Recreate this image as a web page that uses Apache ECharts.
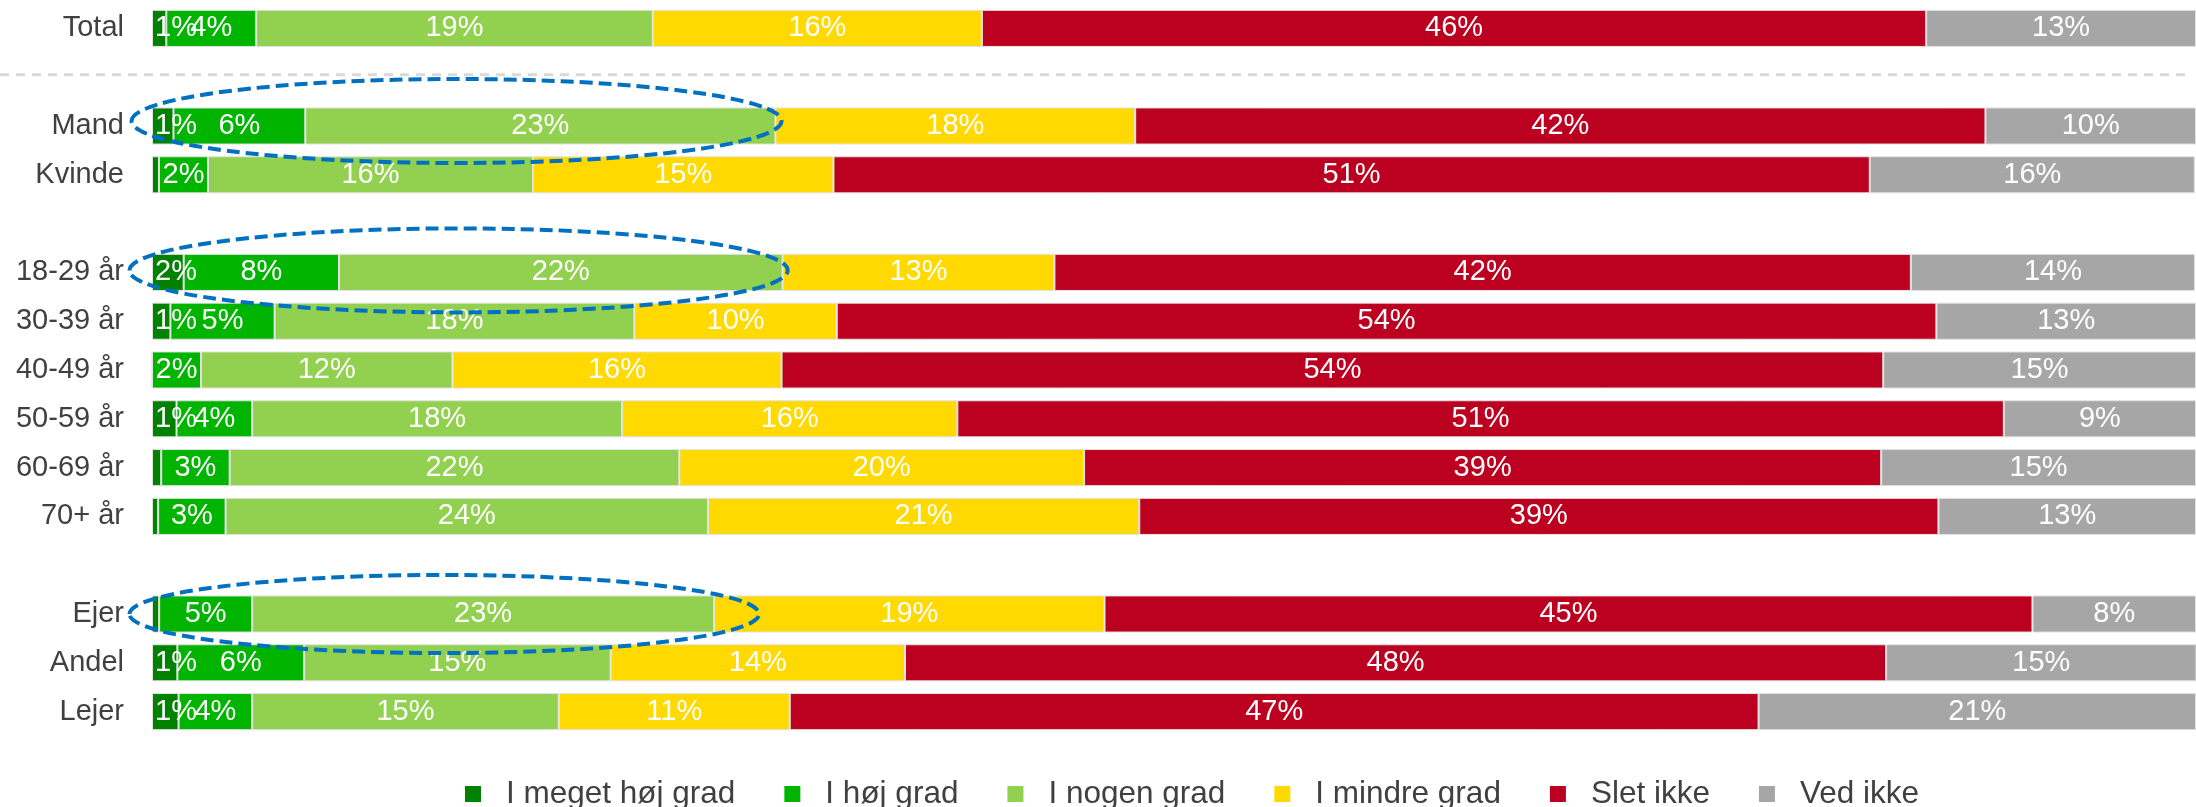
<!DOCTYPE html>
<html>
<head>
<meta charset="utf-8">
<title>Stacked bars</title>
<script src="https://cdn.jsdelivr.net/npm/echarts@6/dist/echarts.min.js"></script>
<style>
  html, body { margin: 0; padding: 0; background: #fff; }
  #chart { width: 2196px; height: 807px; }
</style>
</head>
<body>
<div id="chart"></div>
<script>
/* rows from top to bottom, the blank rows split the groups */
const categories = ['Total', ' ', 'Mand', 'Kvinde', '  ', '18-29 år', '30-39 år', '40-49 år',
  '50-59 år', '60-69 år', '70+ år', '   ', 'Ejer', 'Andel', 'Lejer'];

const levels = ['I meget høj grad', 'I høj grad', 'I nogen grad', 'I mindre grad', 'Slet ikke', 'Ved ikke'];

/* shares in % ('-' = blank row) */
const meget = [0.7, '-', 1.05, 0.34, '-', 1.55, 0.9, 0, 1.2, 0.45, 0.3, '-', 0.35, 1.24, 1.3];
const hoej = [4.4, '-', 6.45, 2.4, '-', 7.6, 5.1, 2.4, 3.7, 3.35, 3.3, '-', 4.55, 6.2, 3.6];
const nogen = [19.4, '-', 23.0, 15.9, '-', 21.7, 17.6, 12.3, 18.1, 22.0, 23.6, '-', 22.6, 15.0, 15.0];
const mindre = [16.1, '-', 17.6, 14.7, '-', 13.3, 9.9, 16.1, 16.4, 19.8, 21.1, '-', 19.1, 14.4, 11.3];
const sletIkke = [46.2, '-', 41.6, 50.7, '-', 41.9, 53.8, 53.9, 51.2, 39.0, 39.1, '-', 45.4, 48.0, 47.4];
const vedIkke = [13.2, '-', 10.3, 15.9, '-', 13.9, 12.7, 15.3, 9.4, 15.4, 12.6, '-', 8.0, 15.2, 21.4];

const colors = ['#008200', '#00B400', '#92D050', '#FFD900', '#BC0020', '#A6A6A6'];
const font = '"Liberation Sans", Arial, sans-serif';

/* dashed ellipses around the first three segments, in axis units */
const highlights = [
  { row: 'Mand', from: -1, to: 30.8, dy: -5, ry: 42 },
  { row: '18-29 år', from: -1.1, to: 31.1, dy: -2, ry: 42 },
  { row: 'Ejer', from: -1.1, to: 29.7, dy: 0, ry: 39 },
];

const seriesData = [meget, hoej, nogen, mindre, sletIkke, vedIkke];

const chart = echarts.init(document.getElementById('chart'));

chart.setOption({
  animation: false,
  color: colors,
  grid: { left: 152, right: -17, top: 4, bottom: 71 },
  xAxis: { type: 'value', min: 0, max: 100, show: false },
  yAxis: {
    type: 'category',
    inverse: true,
    data: categories,
    axisLine: { show: false },
    axisTick: { show: false },
    splitLine: { show: false },
    axisLabel: { fontSize: 29, color: '#404040', margin: 28, fontFamily: font },
  },
  legend: {
    data: levels,
    left: 460,
    top: 773,
    icon: 'rect',
    itemWidth: 16,
    itemHeight: 16,
    itemGap: 49,
    itemStyle: { borderWidth: 0 },
    textStyle: { fontSize: 31.5, lineHeight: 32, color: '#404040', fontFamily: font, padding: [0, 0, 0, 20] },
  },
  series: levels.map((name, i) => ({
    name,
    type: 'bar',
    stack: 'total',
    barCategoryGap: '24%',
    data: seriesData[i],
    itemStyle: { color: colors[i], borderColor: '#e2e2e2', borderWidth: 1 },
    emphasis: { disabled: true },
    label: {
      show: true,
      // the thin first segment keeps its label inside the plot, as in the original
      position: i === 0 ? 'insideLeft' : 'inside',
      distance: 3,
      color: '#fff',
      fontSize: 29,
      fontFamily: font,
      formatter: (p) => (Math.round(p.value) > 0 ? `${Math.round(p.value)}%` : ''),
    },
  })),
});

/* separator under Total and the highlight ellipses, placed through the axes */
const toPx = (x, row) => chart.convertToPixel({ xAxisIndex: 0, yAxisIndex: 0 }, [x, row]);
const sepY = toPx(0, 1)[1] - 2.5;

chart.setOption({
  graphic: [
    {
      type: 'line',
      silent: true,
      shape: { x1: 0, y1: sepY, x2: chart.getWidth() - 6, y2: sepY },
      style: { stroke: '#d9d9d9', lineWidth: 3, lineDash: [9, 7] },
    },
    ...highlights.map((h) => {
      const row = categories.indexOf(h.row);
      const a = toPx(h.from, row);
      const b = toPx(h.to, row);
      return {
        type: 'ellipse',
        silent: true,
        z: 100,
        shape: { cx: (a[0] + b[0]) / 2, cy: a[1] + h.dy, rx: (b[0] - a[0]) / 2, ry: h.ry },
        style: { fill: 'none', stroke: '#0070C0', lineWidth: 4, lineDash: [13, 6] },
      };
    }),
  ],
});
</script>
</body>
</html>
